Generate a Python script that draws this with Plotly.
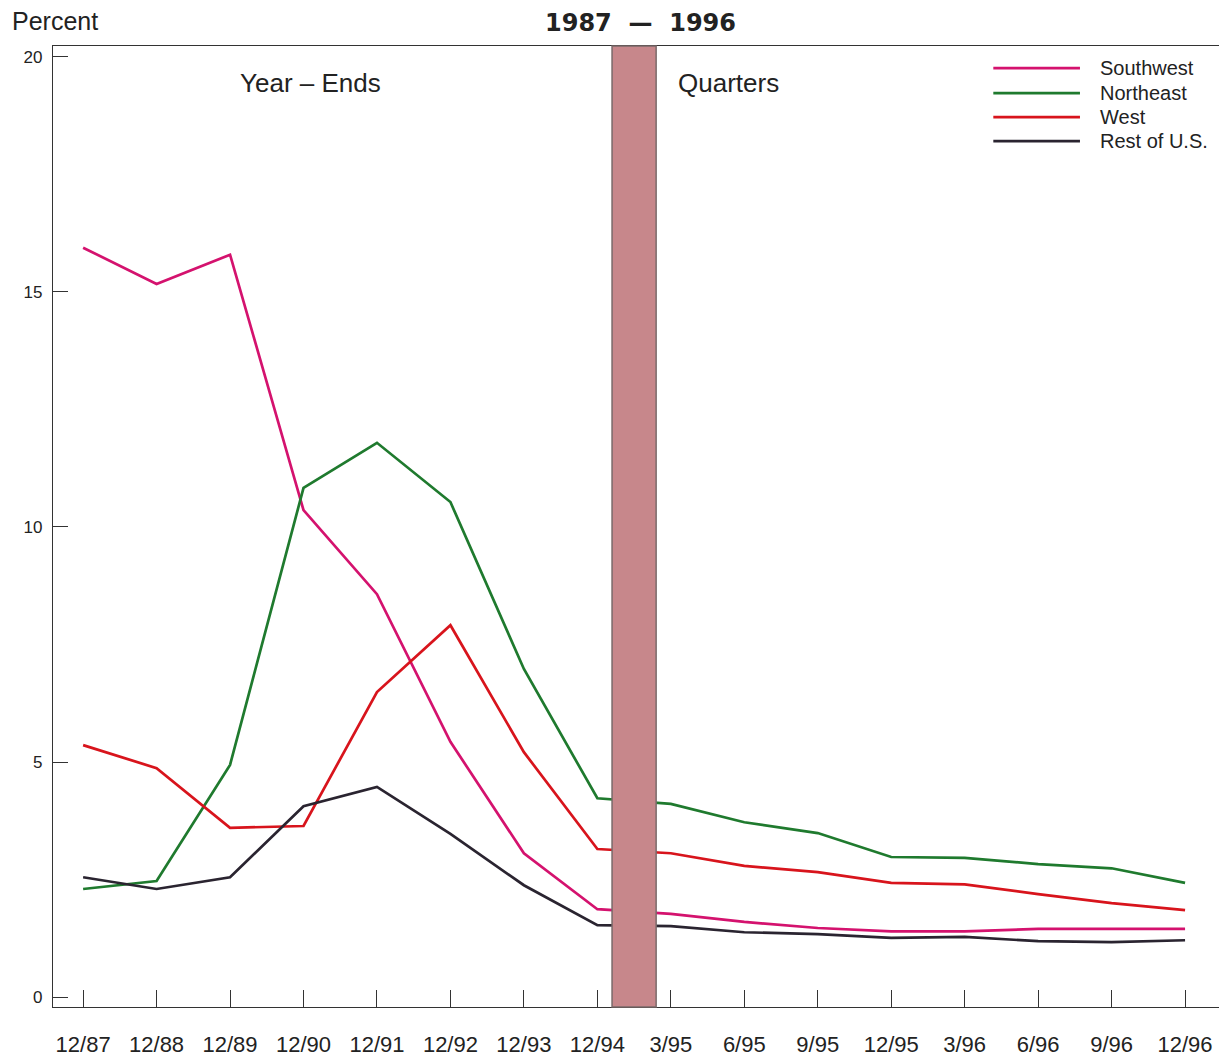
import plotly.graph_objects as go

periods = ["12/87", "12/88", "12/89", "12/90", "12/91", "12/92", "12/93", "12/94",
           "3/95", "6/95", "9/95", "12/95", "3/96", "6/96", "9/96", "12/96"]

southwest = [15.94, 15.17, 15.79, 10.36, 8.57, 5.43, 3.06, 1.87,
             1.77, 1.60, 1.47, 1.40, 1.40, 1.45, 1.45, 1.45]
northeast = [2.30, 2.47, 4.94, 10.83, 11.79, 10.53, 6.98, 4.23,
             4.11, 3.72, 3.49, 2.98, 2.96, 2.83, 2.74, 2.43]
west = [5.36, 4.87, 3.60, 3.64, 6.49, 7.91, 5.21, 3.15,
        3.06, 2.79, 2.66, 2.43, 2.40, 2.19, 2.00, 1.85]
rest_us = [2.55, 2.30, 2.55, 4.06, 4.47, 3.47, 2.38, 1.53,
           1.51, 1.38, 1.34, 1.26, 1.28, 1.19, 1.17, 1.21]

series_names = ["Southwest", "Northeast", "West", "Rest of U.S."]
series_values = [southwest, northeast, west, rest_us]
colors = ["#d4126e", "#1f7a2e", "#d8141c", "#2a2430"]

y_ticks = [0, 5, 10, 15, 20]

FONT = "Liberation Sans, Arial, sans-serif"
BOLD_FONT = "DejaVu Sans, Liberation Sans, sans-serif"

x_idx = list(range(len(periods)))

fig = go.Figure()
for name, vals, col in zip(series_names, series_values, colors):
    fig.add_trace(go.Scatter(x=x_idx, y=vals, mode="lines", name=name,
                             line=dict(color=col, width=2.7), showlegend=False))

# divider band between year-ends and quarters
fig.add_shape(type="rect", xref="x", yref="paper", x0=7.2, x1=7.8, y0=0, y1=1,
              fillcolor="#c7878b", line=dict(color="#7a6a6a", width=1.5), layer="above")

# manual legend (long line samples)
leg_y = [0.977, 0.951, 0.926, 0.901]
for name, col, yy in zip(series_names, colors, leg_y):
    fig.add_shape(type="line", xref="paper", yref="paper", x0=0.803, x1=0.877, y0=yy, y1=yy,
                  line=dict(color=col, width=2.7))
    fig.add_annotation(xref="paper", yref="paper", x=0.892, y=yy, text=name, showarrow=False,
                       xanchor="left", yanchor="middle", font=dict(size=20, color="#222", family=FONT))

fig.add_annotation(xref="paper", yref="paper", x=0.22, y=0.962, text="Year \u2013 Ends",
                   showarrow=False, xanchor="center", yanchor="middle",
                   font=dict(size=26, color="#222", family=FONT))
fig.add_annotation(xref="paper", yref="paper", x=0.577, y=0.962, text="Quarters",
                   showarrow=False, xanchor="center", yanchor="middle",
                   font=dict(size=26, color="#222", family=FONT))
fig.add_annotation(xref="paper", yref="paper", x=-0.037, y=1.026, text="Percent",
                   showarrow=False, xanchor="left", yanchor="middle",
                   font=dict(size=25, color="#222", family=FONT))
fig.add_annotation(xref="paper", yref="paper", x=0.502, y=1.024, text="<b>1987  \u2014  1996</b>",
                   showarrow=False, xanchor="center", yanchor="middle",
                   font=dict(size=24, color="#222", family=BOLD_FONT))

# page body has an 8px margin; size the figure so the plot area lands where the reference has it
fig.update_layout(
    width=1219, height=1053,
    margin=dict(l=45, r=3, t=38, b=54),
    paper_bgcolor="white", plot_bgcolor="white",
    font=dict(family=FONT, color="#222"),
    showlegend=False,
)
fig.update_xaxes(range=[-0.41, 15.53], tickvals=x_idx, ticktext=periods, automargin=False,
                 ticks="inside", ticklen=17, tickwidth=1.3, tickcolor="#333",
                 showline=True, linecolor="#333", linewidth=1.3, mirror=True,
                 showgrid=False, zeroline=False, ticklabelstandoff=17,
                 tickfont=dict(size=22, color="#222", family=FONT))
fig.update_yaxes(range=[-0.21, 20.23], tickvals=y_ticks, ticktext=[str(v) for v in y_ticks],
                 automargin=False,
                 ticks="inside", ticklen=15, tickwidth=1.3, tickcolor="#333",
                 showline=True, linecolor="#333", linewidth=1.3, mirror=True,
                 showgrid=False, zeroline=False, ticklabelstandoff=6,
                 tickfont=dict(size=17, color="#222", family=FONT))

fig.write_html("out.html")
